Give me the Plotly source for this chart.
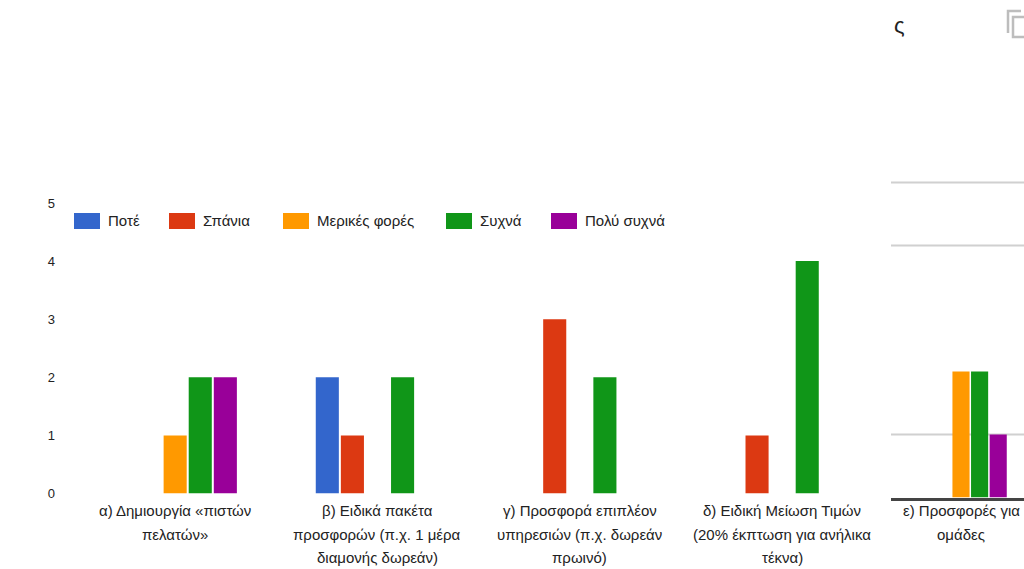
import plotly.graph_objects as go

# --- data -------------------------------------------------------------------
categories = [
    "α) Δημιουργία «πιστών<br>πελατών»",
    "β) Ειδικά πακέτα<br>προσφορών (π.χ. 1 μέρα<br>διαμονής δωρεάν)",
    "γ) Προσφορά επιπλέον<br>υπηρεσιών (π.χ. δωρεάν<br>πρωινό)",
    "δ) Ειδική Μείωση Τιμών<br>(20% έκπτωση για ανήλικα<br>τέκνα)",
]
series_names = ["Ποτέ", "Σπάνια", "Μερικές φορές", "Συχνά", "Πολύ συχνά"]
never = [0, 2, 0, 0]
rarely = [0, 1, 3, 1]
sometimes = [1, 0, 0, 0]
often = [2, 2, 2, 4]
very_often = [2, 0, 0, 0]
series_values = [never, rarely, sometimes, often, very_often]

# neighbouring chart (partly visible on the right)
side_categories = ["ε) Προσφορές για<br>ομάδες"]
side_values = [[0], [0], [2], [2], [1]]

y_ticks = [0, 1, 2, 3, 4, 5]
side_grid_values = [1, 4, 5]

colors = ["#3366CC", "#DC3912", "#FF9900", "#109618", "#990099"]

# --- layout helpers ---------------------------------------------------------
W, H = 1024, 569


def px_x(x):
    return x / W


def px_y(y):
    return 1 - y / H


FONT = "Liberation Sans, Arial, sans-serif"
TEXT = "#222222"

fig = go.Figure()

for name, vals, col in zip(series_names, series_values, colors):
    fig.add_trace(go.Bar(
        x=categories, y=vals, name=name, marker_color=col,
        marker_line_width=0, showlegend=False, xaxis="x", yaxis="y",
        hoverinfo="name+y",
    ))

for name, vals, col in zip(series_names, side_values, colors):
    fig.add_trace(go.Bar(
        x=side_categories, y=vals, name=name, marker_color=col,
        marker_line_width=0, showlegend=False, xaxis="x2", yaxis="y2",
        hoverinfo="name+y",
    ))

shapes = []
annotations = []

# hand-drawn legend (wide rectangular swatches)
legend_left = [74, 169, 283, 446, 551]
for lx, name, col in zip(legend_left, series_names, colors):
    shapes.append(dict(type="rect", xref="paper", yref="paper",
                       x0=px_x(lx), x1=px_x(lx + 26),
                       y0=px_y(229), y1=px_y(213),
                       fillcolor=col, line=dict(width=0)))
    annotations.append(dict(xref="paper", yref="paper",
                            x=px_x(lx + 32), y=px_y(221),
                            xanchor="left", yanchor="middle",
                            text=name, showarrow=False,
                            font=dict(family=FONT, size=15, color=TEXT)))

# multi-line category labels below the bars
line_rows = [510, 534, 557]


def add_category_labels(cats, xref):
    for cat in cats:
        for row, line in zip(line_rows, cat.split("<br>")):
            annotations.append(dict(xref=xref, yref="paper", x=cat,
                                    y=px_y(row), xanchor="center",
                                    yanchor="middle", text=line,
                                    showarrow=False,
                                    font=dict(family=FONT, size=15,
                                              color=TEXT)))


add_category_labels(categories, "x")
add_category_labels(side_categories, "x2")

# gridlines of the neighbouring chart
for gv in side_grid_values:
    shapes.append(dict(type="line", xref="paper", yref="y2",
                       x0=px_x(891), x1=1, y0=gv, y1=gv,
                       line=dict(color="#d0d0d0", width=2), layer="below"))

# tail of the neighbouring card title and its copy icon
annotations.append(dict(xref="paper", yref="paper", x=px_x(899), y=px_y(25),
                        xanchor="center", yanchor="middle", text="ς",
                        showarrow=False,
                        font=dict(family=FONT, size=22, color=TEXT)))
shapes.append(dict(type="path", xref="paper", yref="paper",
                   path=(f"M {px_x(1008)},{px_y(33)} L {px_x(1008)},{px_y(11)} "
                         f"L {px_x(1021)},{px_y(11)}"),
                   line=dict(color="#bdbdbd", width=2.5)))
shapes.append(dict(type="rect", xref="paper", yref="paper",
                   x0=px_x(1013), x1=px_x(1026), y0=px_y(37), y1=px_y(17),
                   line=dict(color="#bdbdbd", width=2.5)))

main_zero, main_unit = 493.5, 58.1
side_zero, side_unit = 497.5, 63.0
side_spacing = 150.0
side_center = 961.0

fig.update_layout(
    template="none",
    width=W, height=H, autosize=False,
    margin=dict(l=0, r=0, t=0, b=0, pad=0, autoexpand=False),
    paper_bgcolor="white", plot_bgcolor="white",
    barmode="group", bargap=0.38, bargroupgap=0.08,
    showlegend=False,
    font=dict(family=FONT, color=TEXT),
    xaxis=dict(domain=[px_x(74), px_x(883.3)], range=[-0.5, 3.5],
               showticklabels=False, showgrid=False, zeroline=False,
               showline=False, ticks="", automargin=False, fixedrange=True),
    yaxis=dict(domain=[px_y(main_zero), px_y(main_zero - 5 * main_unit)],
               range=[0, 5], tickvals=y_ticks, ticktext=[str(v) for v in y_ticks],
               showgrid=False, zeroline=False, showline=False,
               ticks="", ticklabelstandoff=18, automargin=False,
               tickfont=dict(family=FONT, size=13, color=TEXT),
               fixedrange=True),
    xaxis2=dict(domain=[px_x(891), 1.0],
                range=[(891 - side_center) / side_spacing,
                       (W - side_center) / side_spacing],
                anchor="y2", showticklabels=False, showgrid=False,
                zeroline=False, showline=True, linecolor="#444444",
                linewidth=2.5, ticks="", automargin=False, fixedrange=True),
    yaxis2=dict(domain=[px_y(side_zero), px_y(side_zero - 5.2 * side_unit)],
                range=[0, 5.2], anchor="x2", showticklabels=False,
                showgrid=False, zeroline=False, showline=False, ticks="",
                automargin=False, fixedrange=True),
    shapes=shapes,
    annotations=annotations,
)

fig.write_html("out.html")
